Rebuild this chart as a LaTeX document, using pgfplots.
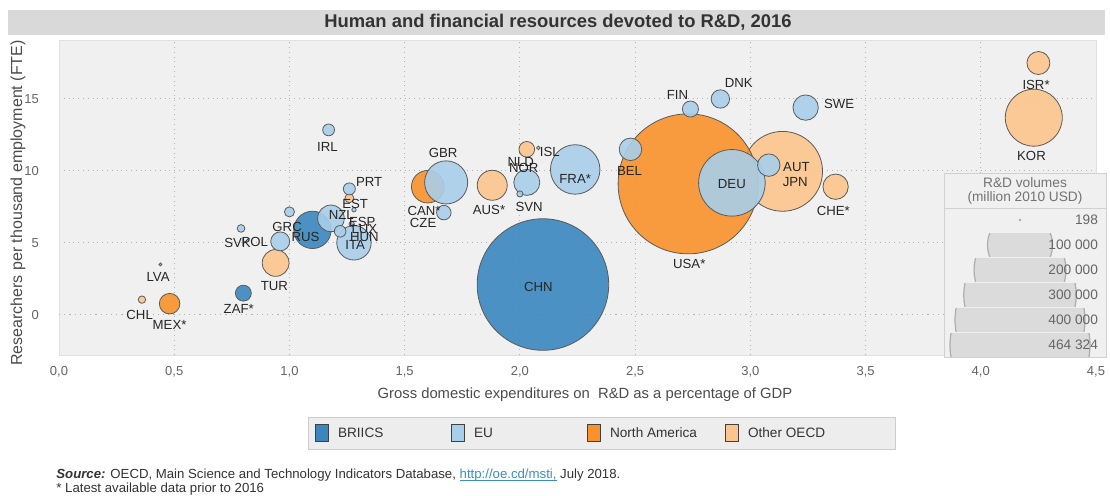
\documentclass[border=0pt]{standalone}
\usepackage{pgfplots}
\pgfplotsset{compat=1.18}
\usepackage{fontspec}
\setmainfont{Liberation Sans}

\definecolor{briics}{RGB}{58,135,192}
\definecolor{eu}{RGB}{168,207,234}
\definecolor{na}{RGB}{249,146,44}
\definecolor{oth}{RGB}{253,197,141}
\definecolor{plotbg}{RGB}{240,240,240}
\definecolor{edgec}{RGB}{90,90,90}
\definecolor{titlebg}{RGB}{217,217,217}
\definecolor{txt}{RGB}{51,51,51}
\definecolor{tickc}{RGB}{100,100,100}
\definecolor{linkc}{RGB}{60,140,200}

\newcommand{\ul}[1]{\setbox0\hbox{#1}\rlap{\rule[-1.1pt]{\wd0}{0.4pt}}\box0}

% GERD (% of GDP), researchers per thousand employment, R&D volume (million 2010 USD)
\pgfplotstableread{
name x y v
JPN 3.14 9.97 151000
KOR 4.23 13.7 77000
AUS 1.88 9.0 21300
TUR 0.94 3.6 17000
CHE 3.37 8.9 15200
ISR 4.25 17.5 12500
NOR 2.03 11.5 5800
NZL 1.26 8.1 1900
CHL 0.36 1.05 1300
ISL 2.08 11.6 320
}\othdata
\pgfplotstableread{
name x y v
USA 2.73 9.1 464324
CAN 1.60 8.9 25000
MEX 0.48 0.77 10000
}\nadata
\pgfplotstableread{
name x y v
CHN 2.10 2.1 410000
RUS 1.10 5.9 33000
ZAF 0.80 1.5 6000
}\briicsdata
\pgfplotstableread{
name x y v
DEU 2.92 9.17 105000
FRA 2.24 10.1 58000
GBR 1.68 9.2 44000
ITA 1.28 5.0 28000
ESP 1.18 6.7 16800
NLD 2.03 9.2 16000
SWE 3.24 14.4 15200
AUT 3.08 10.4 11900
BEL 2.48 11.5 12000
POL 0.96 5.1 8500
DNK 2.87 15.0 8000
FIN 2.74 14.3 6100
CZE 1.67 7.1 5000
PRT 1.26 8.75 3400
IRL 1.17 12.85 3300
HUN 1.22 5.8 3200
GRC 1.00 7.15 2400
SVK 0.79 6.0 1400
SVN 2.00 8.4 900
LUX 1.27 6.3 700
EST 1.28 7.3 450
LVA 0.44 3.5 198
}\eudata

\pgfplotsset{
  bubble/.style={scatter, only marks, mark=*,
    scatter/use mapped color={draw=edgec, fill=#1, fill opacity=0.9, line width=0.4pt},
    visualization depends on={35*sqrt(\thisrow{v}/464324) \as \rad},
    scatter/@pre marker code/.append style={/tikz/mark size=\rad}},
}
\tikzset{lbl/.style={font=\fontsize{6.6}{7}\selectfont, text=black!85, inner sep=0pt}}

\begin{document}
\begin{tikzpicture}
\path[use as bounding box] (0,0) rectangle (555pt,247.5pt);
\fill[white] (0,0) rectangle (555pt,247.5pt);

\begin{axis}[
  at={(29.5pt,70pt)}, anchor=south west,
  scale only axis, width=518.5pt, height=157.5pt,
  xmin=0, xmax=4.5, ymin=-2.8, ymax=19.1,
  axis background/.style={fill=plotbg},
  axis line style={draw=black!12},
  xtick={0,0.5,...,4.5}, ytick={5,10,15},
  extra y ticks={0},
  extra y tick style={grid style={dotted, draw=black!65, line width=0.6pt}},
  grid=major,
  major grid style={dotted, draw=black!30, line width=0.5pt},
  major tick length=0pt,
  tick label style={font=\fontsize{6.5}{7}\selectfont, text=tickc},
  /pgf/number format/assume math mode=true,
  xticklabel style={/pgf/number format/.cd, fixed, fixed zerofill, precision=1, use comma},
  yticklabel shift=6.5pt, xticklabel shift=2.4pt,
]
\addplot[bubble=oth] table[x=x, y=y] {\othdata};
\addplot[bubble=na] table[x=x, y=y] {\nadata};
\addplot[bubble=briics] table[x=x, y=y] {\briicsdata};
\addplot[bubble=eu] table[x=x, y=y] {\eudata};

% label anchors (labels drawn after the axis so they sit above the bubbles)
\coordinate (LVA) at (axis cs:0.43,2.64);
\coordinate (CHL) at (axis cs:0.35,0.0);
\coordinate (MEX) at (axis cs:0.48,-0.7);
\coordinate (ZAF) at (axis cs:0.78,0.4);
\coordinate (TUR) at (axis cs:0.935,2.0);
\coordinate (SVK) at (axis cs:0.775,5.0);
\coordinate (POL) at (axis cs:0.85,5.07);
\coordinate (GRC) at (axis cs:0.99,6.1);
\coordinate (RUS) at (axis cs:1.07,5.4);
\coordinate (NZL) at (axis cs:1.225,6.94);
\coordinate (EST) at (axis cs:1.285,7.7);
\coordinate (ESP) at (axis cs:1.316,6.46);
\coordinate (LUX) at (axis cs:1.325,5.97);
\coordinate (HUN) at (axis cs:1.325,5.42);
\coordinate (ITA) at (axis cs:1.285,4.86);
\coordinate (PRT) at (axis cs:1.346,9.24);
\coordinate (IRL) at (axis cs:1.165,11.67);
\coordinate (GBR) at (axis cs:1.667,11.25);
\coordinate (CAN) at (axis cs:1.584,7.22);
\coordinate (CZE) at (axis cs:1.58,6.39);
\coordinate (AUS) at (axis cs:1.866,7.29);
\coordinate (NLD) at (axis cs:2.004,10.6);
\coordinate (NOR) at (axis cs:2.017,10.2);
\coordinate (ISL) at (axis cs:2.13,11.3);
\coordinate (SVN) at (axis cs:2.04,7.5);
\coordinate (FRA) at (axis cs:2.24,9.44);
\coordinate (BEL) at (axis cs:2.476,10.0);
\coordinate (CHN) at (axis cs:2.08,1.9);
\coordinate (FIN) at (axis cs:2.684,15.3);
\coordinate (DNK) at (axis cs:2.95,16.1);
\coordinate (SWE) at (axis cs:3.385,14.65);
\coordinate (AUT) at (axis cs:3.20,10.28);
\coordinate (JPN) at (axis cs:3.195,9.24);
\coordinate (DEU) at (axis cs:2.92,9.1);
\coordinate (CHE) at (axis cs:3.36,7.22);
\coordinate (USA) at (axis cs:2.735,3.54);
\coordinate (ISR) at (axis cs:4.24,16.0);
\coordinate (KOR) at (axis cs:4.22,11.04);
\end{axis}

\foreach \n/\t in {LVA/LVA, CHL/CHL, MEX/MEX*, ZAF/ZAF*, TUR/TUR, SVK/SVK, POL/POL,
  GRC/GRC, RUS/RUS, NZL/NZL, EST/EST, ESP/ESP, LUX/LUX, HUN/HUN, ITA/ITA, PRT/PRT,
  IRL/IRL, GBR/GBR, CAN/CAN*, CZE/CZE, AUS/AUS*, NLD/NLD, NOR/NOR, ISL/ISL, SVN/SVN,
  FRA/FRA*, BEL/BEL, CHN/CHN, FIN/FIN, DNK/DNK, SWE/SWE, AUT/AUT, JPN/JPN, DEU/DEU,
  CHE/CHE*, USA/USA*, ISR/ISR*, KOR/KOR}
  \node[lbl] at (\n) {\t};

% everything else in pixel coordinates of the 1110x495 reference
\begin{scope}[x=0.5pt, y=-0.5pt, yshift=247.5pt]
  % title bar
  \fill[titlebg] (8,10) rectangle (1105,35);
  \node[font=\fontsize{9.2}{10}\selectfont\bfseries, text=txt] at (558,22.5)
    {Human and financial resources devoted to R\&D, 2016};
  % axis titles
  \node[rotate=90, font=\fontsize{8}{9}\selectfont, text=black!70] at (18,203)
    {Researchers per thousand employment (FTE)};
  \node[font=\fontsize{7.4}{8}\selectfont, text=black!70] at (585,395)
    {Gross domestic expenditures on\ \ R\&D as a percentage of GDP};

  % size legend (volumes in thousand million)
  \filldraw[fill=plotbg, draw=black!18] (944,173) rectangle (1106,357);
  \draw[black!18] (944,208) -- (1106,208);
  \node[font=\fontsize{6.85}{7}\selectfont, text=black!55] at (1025,183) {R\&D volumes};
  \node[font=\fontsize{6.85}{7}\selectfont, text=black!55] at (1025,198) {(million 2010 USD)};
  \fill[black!35] (1020,220) circle [radius=1.45];
  \node[anchor=east, font=\fontsize{6.85}{7}\selectfont, text=black!60] at (1105,220) {198};
  \foreach \v/\yc/\t in {100/245/100 000, 200/270/200 000, 300/295/300 000,
                         400/320/400 000, 464.324/345/464 324} {
    \begin{scope}
      \clip (944,\yc-11.5) rectangle (1106,\yc+11.5);
      \filldraw[fill=black!14, draw=black!32, line width=0.6pt]
        (1020,\yc) circle [radius={70*sqrt(\v/464.324)}];
    \end{scope}
    \node[anchor=east, font=\fontsize{6.85}{7}\selectfont, text=black!60] at (1105,\yc) {\t};
  }

  % colour legend
  \filldraw[fill=black!7, draw=black!20] (308,417) rectangle (895,449);
  \foreach \c/\xx/\t in {briics/315/BRIICS, eu/451/EU, na/587/North America, oth/725/Other OECD} {
    \filldraw[fill=\c, draw=black!75, line width=0.5pt] (\xx,424) rectangle (\xx+13,441);
    \node[anchor=west, font=\fontsize{6.8}{7}\selectfont, text=txt] at (\xx+16,432.5) {\t};
  }

  % notes
  \node[anchor=west, font=\fontsize{6.6}{7}\selectfont, text=txt, inner sep=0pt] at (56,475)
    {\textbf{\textit{Source:}} OECD, Main Science and Technology Indicators Database,
     \textcolor{linkc}{\ul{http://oe.cd/msti,}} July 2018.};
  \node[anchor=west, font=\fontsize{6.6}{7}\selectfont, text=txt, inner sep=0pt] at (56,489)
    {* Latest available data prior to 2016};
\end{scope}
\end{tikzpicture}
\end{document}
